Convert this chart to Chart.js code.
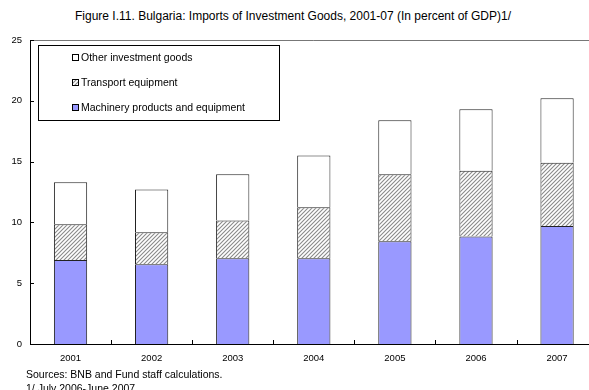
<!DOCTYPE html>
<html>
<head>
<meta charset="utf-8">
<script src="https://cdn.jsdelivr.net/npm/chart.js@4"></script>
<style>
  body { margin: 0; width: 589px; height: 390px; overflow: hidden; background: #fff; font-family: "Liberation Sans", Arial, sans-serif; position: relative; }
  #title { position: absolute; left: 0; top: 9px; width: 586px; text-align: center; font-size: 12px; color: #000; }
  #wrap { position: absolute; left: 0; top: 0; width: 600px; height: 370px; }
  .note { position: absolute; left: 26px; font-size: 10.5px; color: #000; }
</style>
</head>
<body>
<div id="title">Figure I.11. Bulgaria: Imports of Investment Goods, 2001-07 (In percent of GDP)1/</div>
<div id="wrap"><canvas id="chart" width="600" height="370"></canvas></div>
<div class="note" style="top:368px">Sources: BNB and Fund staff calculations.</div>
<div class="note" style="top:382px">1/ July 2006-June 2007</div>
<script>
const years = ['2001', '2002', '2003', '2004', '2005', '2006', '2007'];
const machinery = [6.9, 6.55, 7.05, 7.05, 8.45, 8.85, 9.7];
const transport = [2.95, 2.65, 3.1, 4.2, 5.5, 5.4, 5.2];
const other = [3.45, 3.5, 3.8, 4.25, 4.45, 5.05, 5.3];
const yTicks = [0, 5, 10, 15, 20, 25];

// diagonal hatch for transport equipment
function makeHatch() {
  const c = document.createElement('canvas');
  c.width = 4;
  c.height = 4;
  const g = c.getContext('2d');
  g.fillStyle = '#fff';
  g.fillRect(0, 0, 4, 4);
  g.strokeStyle = '#8a8a8a';
  g.lineWidth = 1.1;
  g.beginPath();
  g.moveTo(-1, 5); g.lineTo(5, -1);
  g.moveTo(-1, 1); g.lineTo(1, -1);
  g.moveTo(3, 5); g.lineTo(5, 3);
  g.stroke();
  return g.createPattern(c, 'repeat');
}

const ctx = document.getElementById('chart').getContext('2d');
const hatch = makeHatch();

// frame line, inward ticks and the boxed legend
const extras = {
  id: 'extras',
  afterDraw(chart) {
    const c = chart.ctx;
    const a = chart.chartArea;
    const y = chart.scales.y;
    c.save();
    c.strokeStyle = '#777';
    c.lineWidth = 1;
    c.beginPath();
    c.moveTo(a.left, a.top + 0.5);
    c.lineTo(a.right, a.top + 0.5);
    c.stroke();

    c.strokeStyle = '#000';
    c.beginPath();
    yTicks.forEach(v => {
      const py = Math.round(y.getPixelForValue(v)) + 0.5;
      c.moveTo(a.left, py);
      c.lineTo(a.left + 4, py);
    });
    const step = (a.right - a.left) / years.length;
    for (let i = 1; i < years.length; i++) {
      const px = Math.round(a.left + i * step) + 0.5;
      c.moveTo(px, a.bottom);
      c.lineTo(px, a.bottom - 4);
    }
    c.stroke();

    // legend
    c.fillStyle = '#fff';
    c.fillRect(38.5, 45.5, 241, 75);
    c.strokeStyle = '#000';
    c.strokeRect(38.5, 45.5, 241, 75);
    const sets = chart.data.datasets.slice().reverse();
    c.font = '10.5px "Liberation Sans", Arial, sans-serif';
    c.textBaseline = 'middle';
    sets.forEach((ds, i) => {
      const ry = 58 + i * 25;
      c.fillStyle = ds.backgroundColor;
      c.fillRect(72.5, ry - 3.5, 6, 6);
      c.strokeStyle = '#000';
      c.strokeRect(72.5, ry - 3.5, 6, 6);
      c.fillStyle = '#000';
      c.fillText(ds.label, 81, ry);
    });
    c.restore();
  }
};

new Chart(ctx, {
  type: 'bar',
  data: {
    labels: years,
    datasets: [
      { label: 'Machinery products and equipment', data: machinery, backgroundColor: '#9999ff' },
      { label: 'Transport equipment', data: transport, backgroundColor: hatch },
      { label: 'Other investment goods', data: other, backgroundColor: '#ffffff' }
    ]
  },
  options: {
    responsive: false,
    animation: false,
    layout: { padding: { top: 40, right: 2.4, left: 0, bottom: 0 } },
    datasets: {
      bar: {
        barPercentage: 0.41,
        categoryPercentage: 1,
        borderColor: '#222',
        borderWidth: 1
      }
    },
    plugins: {
      legend: { display: false },
      tooltip: { enabled: false }
    },
    scales: {
      x: {
        stacked: true,
        grid: { display: false, drawTicks: false },
        border: { color: '#000', width: 1 },
        ticks: { color: '#000', padding: 9, font: { family: '"Liberation Sans", Arial, sans-serif', size: 9.5 } },
        afterFit: s => { s.height = 26; }
      },
      y: {
        stacked: true,
        min: 0,
        max: 25,
        grid: { display: false, drawTicks: false },
        border: { color: '#000', width: 1 },
        ticks: { stepSize: 5, color: '#000', padding: 8, font: { family: '"Liberation Sans", Arial, sans-serif', size: 9.5 } },
        afterFit: s => { s.width = 30; }
      }
    }
  },
  plugins: [extras]
});
</script>
</body>
</html>
